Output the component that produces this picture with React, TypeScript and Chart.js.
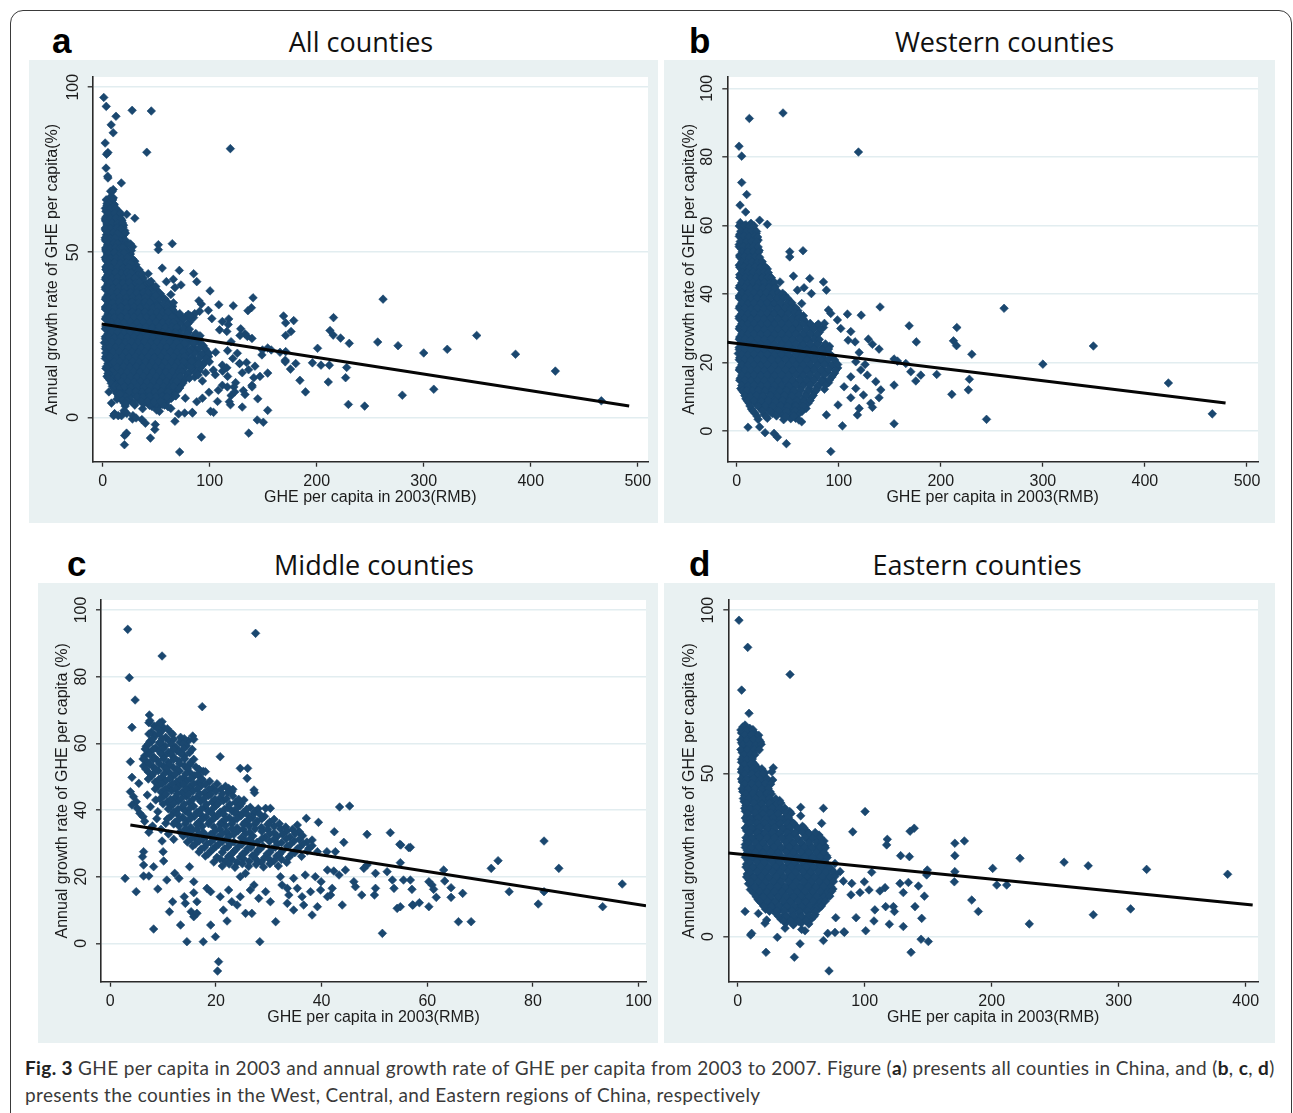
import React, { useEffect, useLayoutEffect, useRef, useState } from "react";
import { Chart, registerables } from "chart.js";

Chart.register(...registerables);

// ---------------- DATA ----------------
// Western counties: [GHE per capita 2003 (RMB), annual growth rate (%)]
const westernPoints: [number, number][] = [
  [45.4,92.8],[12.4,91.2],[2.3,83.1],[4.9,80.2],[119.3,81.4],[4.9,72.5],[9.8,69],[3.3,65.9],[8.8,63.9],[22.5,61.5],
  [30,60.3],[52,52.3],[52,50.8],[65,52.6],[55.6,45.2],[71.6,44.5],[42.5,43.5],[85,43.5],[87.9,41.1],[59.5,41.1],
  [66,41.8],[73.2,40.1],[39.9,40.1],[48,36.7],[63.7,37.2],[140.5,36.2],[262,35.8],[89.9,35.3],[92.2,34.3],[108.5,34.1],
  [122,33.8],[98.7,32.4],[65.4,33.6],[65.4,32.4],[169,30.7],[215.7,30.2],[176,26],[212.4,26.3],[215.4,24.9],[230.4,22.4],
  [129,26.8],[133,25.3],[139.5,23.9],[154.2,21],[157.5,20.4],[165.7,19.7],[170.6,17.3],[175.5,14.6],[180.4,16.3],[196,16.5],
  [228,15.1],[227,12],[210.8,10.7],[154.2,13.4],[154.2,2.1],[244.8,3.4],[103.6,1.5],[92.2,-6],[48.7,-3.7],[39.9,-1.8],
  [36.6,-0.7],[27.8,-0.5],[22.5,1.2],[11.1,1.1],[120,6.6],[118.3,4.7],[131.4,8.1],[133,6.9],[111.8,9.7],[139.5,9.7],
  [141.2,12],[99.3,7.6],[87.9,4.7],[63.7,2.7],[57.8,3.7],[1.6,22.6],[300,19.5],[349.5,24.8],[423,14],[466,5],
  [102,29.9],[111.8,29],[109.2,26.5],[116,26],[120,22.9],[116.7,20.2],[121.6,17.8],[125.8,19.4],[128,16.3],[136.3,14.4],
  [111.8,15.8],[105.2,12.9],[116.7,12.4],[124.2,10.5],
  [3.5,60.8],[9,60.2],[14,60.6],[5.5,59.2],[11,58.7],[16.5,59.1],[3,57.4],[8.5,57.8],[13.5,57.2],[19,57.6],
  [5,56.3],[11,55.8],[16,56.1],[21,55.7],[2.5,54.4],[8,54.8],[13,54.3],[18.5,54.6],[4.5,53.2],[10.5,52.8],
  [16,53.1],[22,52.7],[3,51.3],[8,51.7],[13.5,51.4],[19,51.8],[5,50.2],[11,49.8],[16.5,50.1],[23.5,49.7],
  [2.5,48.4],[8,48.7],[14,48.3],[20,48.6],[26,48.2],[5,47.1],[10.5,46.8],[17,47.2],[23,46.9],[30,47.3],
  [3,45.6],[8,45.3],[13.5,45.7],[19.5,45.4],[26,45.6],[32,45.2],[5.5,44.2],[11,43.8],[16.5,44.1],[22.5,43.9],
  [29,44.3],[35,43.7],[3,42.4],[8.5,42.7],[14,42.3],[20,42.6],[26,42.4],[32,42.8],[38,42.2],[5,41.2],
  [11,40.8],[17,41.1],[23,40.9],[29.5,41.3],[36,40.7],[2.5,39.4],[8,39.7],[14,39.3],[20.5,39.6],[26.5,39.4],
  [33,39.8],[40,39.3],[47,39.6],[5.5,38.2],[11,37.8],[17.5,38.1],[23.5,37.9],[30,38.3],[37,37.7],[44,38.2],
  [52,37.8],[3,36.4],[8.5,36.7],[14.5,36.3],[20.5,36.6],[27,36.4],[33.5,36.8],[40,36.3],[48,36.6],[56,36.2],
  [5,35.2],[11.5,34.8],[17,35.1],[24,34.9],[30.5,35.3],[37,34.7],[44.5,35.2],[51,34.8],[60,35.1],[2.5,33.4],
  [8,33.7],[14,33.3],[20.5,33.6],[27,33.4],[33.5,33.8],[41,33.3],[47.5,33.6],[55,33.2],[62,33.7],[5,32.2],
  [11,31.8],[17.5,32.1],[23.5,31.9],[30,32.3],[36.5,31.7],[44,32.2],[51,31.8],[58.5,32.1],[67,31.9],[3,30.4],
  [8.5,30.7],[14,30.3],[20.5,30.6],[27,30.4],[33,30.8],[40,30.3],[47,30.6],[54.5,30.2],[62,30.7],[70,30.4],
  [78,30.6],[85,30.2],[5.5,29.2],[11,28.8],[17,29.1],[23.5,28.9],[30,29.3],[37,28.7],[43.5,29.2],[50.5,28.8],
  [58,29.1],[66,28.9],[74,29.3],[81,28.8],[3,27.4],[8,27.7],[14.5,27.3],[20.5,27.6],[27,27.4],[33.5,27.8],
  [40,27.3],[47.5,27.6],[54,27.2],[61,27.7],[69,27.4],[77,27.6],[5,26.2],[11,25.8],[17,26.1],[24,25.9],
  [30.5,26.3],[36.5,25.7],[44,26.2],[51,25.8],[57.5,26.1],[65,25.9],[72,26.3],[80,25.8],[2.5,24.4],[8.5,24.7],
  [14,24.3],[20,24.6],[27,24.4],[33.5,24.8],[40.5,24.3],[47,24.6],[54.5,24.2],[62,24.7],[69.5,24.4],[76,24.6],
  [84,24.2],[91,24.7],[5.5,23.2],[11.5,22.8],[17.5,23.1],[23.5,22.9],[30,23.3],[37,22.7],[43.5,23.2],[50,22.8],
  [58,23.1],[65.5,22.9],[73,23.3],[80.5,22.8],[88,23.1],[3,21.4],[8,21.7],[14.5,21.3],[20.5,21.6],[27,21.4],
  [33,21.8],[40,21.3],[47,21.6],[54,21.2],[61.5,21.7],[69,21.4],[77,21.6],[84.5,21.2],[94,21.7],[5,20.2],
  [11,19.8],[17,20.1],[24,19.9],[30.5,20.3],[37,19.7],[43.5,20.2],[51,19.8],[58,20.1],[65,19.9],[72.5,20.3],
  [80,19.8],[88,20.1],[97,19.9],[3,18.4],[8.5,18.7],[14,18.3],[20.5,18.6],[27,18.4],[33.5,18.8],[40.5,18.3],
  [47.5,18.6],[54.5,18.2],[61.5,18.7],[69,18.4],[76.5,18.6],[84,18.2],[92,18.7],[99,18.4],[5.5,17.2],[11,16.8],
  [17.5,17.1],[23.5,16.9],[30,17.3],[37,16.7],[44,17.2],[50.5,16.8],[57.5,17.1],[65,16.9],[73,17.3],[80.5,16.8],
  [88.5,17.1],[96,16.9],[3.5,15.4],[8,15.7],[14.5,15.3],[20.5,15.6],[27,15.4],[33.5,15.8],[40,15.3],[47,15.6],
  [54,15.2],[62,15.7],[70,15.4],[77.5,15.6],[85,15.2],[93,15.7],[6,14.2],[11,13.8],[17,14.1],[23.5,13.9],
  [30.5,14.3],[37,13.7],[44,14.2],[51,13.8],[58,14.1],[66,13.9],[74,14.3],[82,13.8],[90,14.1],[4,12.4],
  [9,12.7],[14.5,12.3],[20.5,12.6],[27,12.4],[34,12.8],[41,12.3],[48,12.6],[55,12.2],[62.5,12.7],[71,12.4],
  [79,12.6],[86,12.2],[7,11.2],[12,10.8],[18,11.1],[24,10.9],[31,11.3],[38,10.7],[45,11.2],[52,10.8],
  [60,11.1],[68,10.9],[76,11.3],[9,9.4],[15,9.7],[21,9.3],[28,9.6],[35,9.4],[42,9.8],[49,9.3],
  [57,9.6],[65,9.2],[73,9.7],[12,8.2],[19,7.8],[26,8.1],[33,7.9],[40,8.3],[47.5,7.7],[55,8.2],
  [63,7.8],[70,8.1],[14.5,6.4],[23,6.7],[31,6.3],[38,6.6],[46,6.4],[54,6.8],[61,6.3],[68,6.6],
  [18,5.2],[27,4.8],[35,5.1],[44,4.9],[52,5.3],[60,4.8],[21,3.4],[30,3.7],[46,3.3],[53,3.6],[61,3.2]
];

// Western counties: the solid cloud between the rows above
const westernDense: [number, number][] = [
  [2.5,59.8],[7.5,59.9],[12.5,59.7],[17,59.9],[4,58.3],[9.5,58.2],[14.5,58.4],[19.5,58.2],
  [2.5,56.8],[7,56.9],[12,56.7],[17.5,56.9],[20.5,56.6],[3.5,55.3],[9.5,55.2],[14.5,55.4],[19.5,55.2],
  [2.5,53.8],[6.5,53.9],[11.5,53.7],[16.5,53.9],[21,53.7],[5.5,52.3],[11,52.2],[16.5,52.4],[21.5,52.2],
  [3,50.8],[7.5,50.9],[12.5,50.7],[18,50.9],[22.5,50.7],[5,49.3],[10,49.2],[15,49.4],[20,49.2],[25,49.4],
  [3,47.8],[7,47.9],[12.5,47.7],[18,47.9],[23.5,47.7],[28,47.9],[5.5,46.3],[10.5,46.2],[16,46.4],[21.5,46.2],[27,46.4],[31,46.2],
  [3,44.8],[8.5,44.9],[14,44.7],[19.5,44.9],[25,44.7],[30.5,44.9],[34,44.7],
  [5,43.3],[10.5,43.2],[16,43.4],[21.5,43.2],[27,43.4],[33,43.2],[37,43.4],
  [2.5,41.8],[8,41.9],[13.5,41.7],[19.5,41.9],[25.5,41.7],[31.5,41.9],[37,41.7],
  [5,40.3],[11,40.2],[17,40.4],[23,40.2],[29,40.4],[35,40.2],[41,40.4],[45,40.2],
  [2.5,38.8],[8,38.9],[14,38.7],[20,38.9],[26.5,38.7],[33,38.9],[39.5,38.7],[46,38.9],[50,38.7],
  [5,37.3],[11,37.2],[17,37.4],[23.5,37.2],[30,37.4],[36.5,37.2],[43,37.4],[50,37.2],[54,37.4],
  [2.5,35.8],[8,35.9],[14,35.7],[20,35.9],[26.5,35.7],[33,35.9],[40,35.7],[47,35.9],[53,35.7],[58,35.9],
  [5,34.3],[11,34.2],[17,34.4],[23.5,34.2],[30,34.4],[36.5,34.2],[43.5,34.4],[50.5,34.2],[57,34.4],[61,34.2],
  [2.5,32.8],[8,32.9],[14,32.7],[20.5,32.9],[27,32.7],[33.5,32.9],[40.5,32.7],[47.5,32.9],[54.5,32.7],[60.5,32.9],[65,32.7],
  [5,31.3],[11,31.2],[17,31.4],[23.5,31.2],[30,31.4],[37,31.2],[44,31.4],[51,31.2],[58,31.4],[64.5,31.2],[72,31.4],[80,31.2],[86,31.4],
  [2.5,29.8],[8,29.9],[14,29.7],[20.5,29.9],[27,29.7],[33.5,29.9],[40.5,29.7],[47.5,29.9],[54.5,29.7],[61.5,29.9],[68,29.7],[75,29.9],[82,29.7],
  [5,28.3],[11,28.2],[17,28.4],[23.5,28.2],[30,28.4],[37,28.2],[44,28.4],[51,28.2],[58,28.4],[65,28.2],[72,28.4],[79,28.2],
  [2.5,26.8],[8,26.9],[14,26.7],[20.5,26.9],[27,26.7],[34,26.9],[41,26.7],[48,26.9],[55,26.7],[62,26.9],[69,26.7],[76,26.9],[81,26.7],
  [5,25.3],[11,25.2],[17,25.4],[23.5,25.2],[30,25.4],[37,25.2],[44,25.4],[51,25.2],[58,25.4],[65,25.2],[72,25.4],[79,25.2],[87,25.4],
  [2.5,23.8],[8,23.9],[14,23.7],[20.5,23.9],[27,23.7],[34,23.9],[41,23.7],[48,23.9],[55,23.7],[62,23.9],[69,23.7],[76,23.9],[83,23.7],[90,23.9],
  [5,22.3],[11,22.2],[17,22.4],[23.5,22.2],[30,22.4],[37,22.2],[44,22.4],[51,22.2],[58,22.4],[65,22.2],[72,22.4],[79,22.2],[86,22.4],[92,22.2],
  [2.5,20.8],[8,20.9],[14,20.7],[20.5,20.9],[27,20.7],[34,20.9],[41,20.7],[48,20.9],[55,20.7],[62,20.9],[69,20.7],[76,20.9],[83,20.7],[90,20.9],[96,20.7],
  [5,19.3],[11,19.2],[17,19.4],[23.5,19.2],[30,19.4],[37,19.2],[44,19.4],[51,19.2],[58,19.4],[65,19.2],[72,19.4],[79,19.2],[86,19.4],[93,19.2],[99,19.4],
  [2.5,17.8],[8,17.9],[14,17.7],[20.5,17.9],[27,17.7],[34,17.9],[41,17.7],[48,17.9],[55,17.7],[62,17.9],[69,17.7],[76,17.9],[83,17.7],[90,17.9],[97,17.7],
  [5,16.3],[11,16.2],[17,16.4],[23.5,16.2],[30,16.4],[37,16.2],[44,16.4],[51,16.2],[58,16.4],[65,16.2],[72,16.4],[79,16.2],[86,16.4],[94,16.2],
  [3,14.8],[8,14.9],[14,14.7],[20.5,14.9],[27,14.7],[34,14.9],[41,14.7],[48,14.9],[55,14.7],[62,14.9],[69,14.7],[76,14.9],[83,14.7],[91,14.9],
  [5,13.3],[11,13.2],[17,13.4],[23.5,13.2],[30,13.4],[37,13.2],[44,13.4],[51,13.2],[58,13.4],[65,13.2],[72,13.4],[79,13.2],[87,13.4],
  [5.5,11.8],[10,11.9],[15.5,11.7],[21.5,11.9],[28,11.7],[35,11.9],[42,11.7],[49,11.9],[56,11.7],[63,11.9],[70,11.7],[78,11.9],
  [8,10.3],[13.5,10.2],[19.5,10.4],[26,10.2],[33,10.4],[40,10.2],[47,10.4],[54,10.2],[61,10.4],[68,10.2],[75,10.4],
  [10.5,8.8],[17,8.9],[24,8.7],[31,8.9],[38,8.7],[45,8.9],[52,8.7],[59,8.9],[66,8.7],[72,8.9],
  [13,7.3],[21,7.2],[28,7.4],[35,7.2],[43,7.4],[50,7.2],[58,7.4],[65,7.2],
  [16,5.8],[25,5.9],[33,5.7],[41,5.9],[49,5.7],[57,5.9],[64,5.7],
  [20,4.3],[29,4.2],[39,4.4],[48,4.2],[56,4.4]
];

// Middle counties
const middlePoints: [number, number][] = [
  [3.3,94.2],[27.5,93],[9.8,86.2],[3.6,79.7],[4.7,73],[17.4,71],[7.4,68.5],[7.3,66.2],[9.8,66.5],[9.9,64],
  [4.1,64.8],[7.8,60.5],[9.5,60.5],[13.3,61.8],[15.6,62.2],[14.2,59],[12.6,57.8],[3.8,54.5],[20.8,56],[4.1,49.8],
  [5.4,48],[24.6,52.5],[26,52.5],[25.9,49.5],[16.7,50.5],[18,51.5],[27.2,46],[27.3,45.2],[3.8,45.5],[4.4,44],
  [4.9,42.5],[4.1,41.5],[5.1,40.5],[5.6,39],[6.2,38],[2.8,19.5],[4.9,15.5],[6.3,27.5],[6.1,26],[6.3,23.5],
  [6.3,20.2],[7.3,20.2],[8.2,23],[9,16.3],[8.2,4.3],[7.6,34.5],[9.8,30.7],[10,27.5],[10.1,24.7],[10.7,19],
  [12.2,21],[13,19.5],[11.2,9.5],[11.8,12.5],[13.3,5.5],[14,14],[14.2,12],[15.3,9.5],[15.8,8],[16.4,9],
  [14.5,0.5],[17.6,0.5],[15.8,15.2],[16.4,12.5],[15,23],[15.8,18.5],[18.3,16.5],[19,15.5],[19,5.5],[19.9,2],
  [20.5,-5.5],[20.3,-8.3],[20.8,14],[21.4,10],[22.1,6.7],[22.4,16],[23,12.5],[24,11.5],[24.6,14],[25.6,9],
  [26.8,9],[28.3,0.5],[27.2,17.5],[28.1,13.5],[25.6,21],[24.6,20],[26.5,16],[29.4,15.5],[30.3,12.5],[31.3,6.5],
  [32.2,20],[32.5,17.5],[33.5,16.5],[33.8,14.5],[33.5,12],[34.7,10],[36.6,11.5],[37.9,15.5],[39.2,11],[38.2,8.5],
  [36.3,14],[34.7,19.5],[35.4,16.5],[36.9,20.5],[38.8,20],[39.9,18.5],[39.8,16],[41.1,14],[41.7,14.5],[42,16.5],
  [43.9,11.5],[41.1,22],[42.3,21.7],[43.3,20.5],[44.5,22],[46.1,18.5],[46.4,17],[47.6,14.5],[48,22.5],[48.6,23.5],
  [50.2,21],[50.2,16.5],[50,14.5],[51.5,3],[52.4,21.5],[53.7,16.5],[54.3,10.5],[53.4,19],[57.2,11.5],[48.6,32.7],
  [53,33.2],[54.8,29.7],[56.5,28.7],[43.4,40.9],[45.3,41.2],[42.4,33.5],[44.2,30.3],[39.4,36.3],[37.1,37.5],[35.4,35.5],
  [35.7,33.5],[41,27.5],[42.6,27.5],[39.2,27.5],[38.2,31],[37.6,28.5],[29.4,40.5],[30.3,40.5],[27.2,39],[24,39],
  [24.6,42.5],[25.3,43],[22.4,46.5],[23,45.5],
  [55,29.5],[56.8,28.8],[54.9,24.2],[55.5,19],[56.8,19],[57.1,16.2],[54.9,11],[57.3,11.5],[58.5,12.2],[60.3,11],
  [60.3,18.5],[60.9,17.5],[61.2,16.2],[61.7,13.8],[63.1,22],[63.3,18.7],[64.5,16.7],[64.5,13.8],[66.7,15],[65.9,6.5],
  [68.3,6.5],[72.1,22.5],[73.4,24.8],[75.5,15.5],[82.1,30.7],[84.9,22.5],[82.1,15.5],[81,11.8],[93.2,11],[96.9,17.8],
  [7.5,66.8],[9.4,66.2],[8.3,65.2],[10.1,64.7],[7.8,63.4],[9.6,63.8],[11.5,63.2],[8.5,62.3],[10.5,61.8],[7.5,60.6],
  [9.3,60.2],[11.2,60.7],[13.2,60.3],[14.8,60.8],[6.8,59.1],[8.6,58.7],[10.4,59.2],[12.4,58.8],[14.4,59.3],[7.2,57.4],
  [9.2,57.8],[11,57.3],[13,57.7],[15,57.2],[6.5,56.2],[8.3,55.8],[10.2,56.1],[12.1,55.7],[14,56.3],[7,54.4],
  [9,54.8],[11,54.3],[13,54.7],[15.2,54.2],[6.3,53.2],[8.2,52.8],[10.1,53.1],[12,52.7],[14,53.3],[16.2,52.9],
  [7.2,51.4],[9.1,51.8],[11.1,51.3],[13.1,51.7],[15.1,51.2],[17.6,51.6],[7.8,50.2],[9.8,49.8],[11.8,50.1],[13.8,49.7],
  [15.9,50.3],[8.5,48.4],[10.5,48.8],[12.5,48.3],[14.5,48.7],[16.6,48.2],[18.8,48.6],[9,47.2],[11,46.8],[13,47.1],
  [15,46.9],[17.2,47.3],[19.4,46.7],[21.8,47.1],[9.6,45.4],[11.6,45.8],[13.6,45.3],[15.7,45.7],[17.8,45.2],[20,45.6],
  [22.3,45.3],[10.2,44.2],[12.3,43.8],[14.4,44.1],[16.5,43.9],[18.6,44.3],[20.8,43.7],[23.2,44.2],[10.8,42.4],[12.9,42.7],
  [15,42.3],[17.1,42.6],[19.3,42.4],[21.4,42.8],[23.7,42.3],[11.5,41.2],[13.6,40.8],[15.8,41.1],[17.9,40.9],[20,41.3],
  [22.2,40.7],[24.5,41.2],[26.5,40.8],[12,39.4],[14.2,39.7],[16.4,39.3],[18.6,39.6],[20.8,39.4],[23,39.8],[25.2,39.3],
  [27.4,39.6],[11.5,38.2],[13.7,37.8],[15.9,38.1],[18.1,37.9],[20.3,38.3],[22.5,37.7],[24.7,38.2],[26.9,37.8],[29.2,38.1],
  [12.3,36.4],[14.5,36.7],[16.7,36.3],[18.9,36.6],[21.1,36.4],[23.3,36.8],[25.5,36.3],[27.8,36.6],[30.2,36.4],[13,35.2],
  [15.2,34.8],[17.4,35.1],[19.6,34.9],[21.8,35.3],[24,34.7],[26.3,35.2],[28.6,34.8],[31,35.1],[33.2,34.9],[13.2,33.4],
  [15.4,33.7],[17.6,33.3],[19.8,33.6],[22,33.4],[24.2,33.8],[26.4,33.3],[28.7,33.6],[31,33.2],[33.4,33.7],[35.8,33.4],
  [13.8,32.2],[16,31.8],[18.2,32.1],[20.4,31.9],[22.6,32.3],[24.8,31.7],[27,32.2],[29.3,31.8],[31.6,32.1],[34,31.9],
  [36.4,32.3],[14.6,30.4],[16.8,30.7],[19,30.3],[21.2,30.6],[23.4,30.4],[25.6,30.8],[27.8,30.3],[30.1,30.6],[32.4,30.2],
  [34.8,30.7],[37.2,30.4],[15.6,29.2],[17.8,28.8],[20,29.1],[22.2,28.9],[24.4,29.3],[26.6,28.7],[28.9,29.2],[31.2,28.8],
  [33.5,29.1],[35.9,28.9],[38.2,29.3],[16.8,27.4],[19,27.7],[21.2,27.3],[23.4,27.6],[25.6,27.4],[27.9,27.8],[30.2,27.3],
  [32.5,27.6],[34.9,27.2],[37.3,27.7],[18,26.2],[20.2,25.8],[22.4,26.1],[24.6,25.9],[26.9,26.3],[29.2,25.7],[31.5,26.2],
  [33.8,25.8],[36.2,26.1],[19.6,24.4],[21.8,24.7],[24,24.3],[26.3,24.6],[28.6,24.4],[31,24.8],[33.4,24.3],[21.2,23.2],
  [23.6,22.8],[26.2,23.1],[29,22.9],[31.8,23.2],
  [6.5,36.6],[8,35.2],[9.6,34.2],[7.3,33.3],[11,32.8],[12,31.2],[8.8,37.4],[10.5,36],[7,44.5],[8.6,43],[7.6,41],[9,39.5]
];

// Middle counties: the dense band between the rows above
const middleDense: [number, number][] = [
  [9.2,65.8],[9,64.3],[10.8,64.4],[7.3,62.8],[9.3,62.9],[11.8,62.7],
  [8,61.3],[9.8,61.4],[12,61.2],[14,61.4],[15.8,61.2],[7.2,59.8],[9.5,59.9],[11.6,59.7],[13.8,59.9],
  [6.6,58.3],[8.1,58.2],[10,58.4],[11.9,58.2],[13.9,58.4],[15.5,58.2],[7.4,56.8],[9.6,56.9],[11.5,56.7],[13.4,56.9],
  [6.2,55.3],[8.1,55.2],[10.1,55.4],[12,55.2],[14.1,55.4],[15.8,55.2],[7.4,53.8],[9.3,53.9],[11.2,53.7],[13.1,53.9],[15.1,53.7],
  [6.7,52.3],[8.6,52.2],[10.6,52.4],[12.6,52.2],[14.6,52.4],[16.8,52.2],[8.1,50.8],[10.2,50.9],[12.3,50.7],[14.3,50.9],[16.5,50.7],
  [7.2,49.3],[9.2,49.2],[11.2,49.4],[13.2,49.2],[15.2,49.4],[17.4,49.2],[9.8,47.8],[11.8,47.9],[13.8,47.7],[15.8,47.9],[18,47.7],[20.2,47.9],
  [8.5,46.3],[10.4,46.2],[12.4,46.4],[14.4,46.2],[16.5,46.4],[18.7,46.2],[21,46.4],[23.2,46.2],
  [10.6,44.8],[12.7,44.9],[14.8,44.7],[16.9,44.9],[19,44.7],[21.2,44.9],
  [9.4,43.3],[11.4,43.2],[13.4,43.4],[15.6,43.2],[17.7,43.4],[19.8,43.2],[22,43.4],[24.3,43.2],
  [10,41.8],[12,41.9],[14,41.7],[18.2,41.7],[20.4,41.9],[22.6,41.7],[24.8,41.9],
  [11,40.3],[12.8,40.2],[15,40.4],[17.2,40.2],[19.4,40.4],[21.6,40.2],[23.8,40.4],[25.8,40.2],[28,40.4],
  [12.7,38.8],[14.9,38.9],[17.1,38.7],[19.3,38.9],[21.5,38.7],[23.7,38.9],[25.9,38.7],[28.2,38.9],
  [10.8,37.3],[13,37.2],[15.2,37.4],[17.4,37.2],[19.6,37.4],[21.8,37.2],[24,37.4],[26.3,37.2],[28.7,37.4],[31,37.2],
  [12,35.8],[14.2,35.9],[16.4,35.7],[18.6,35.9],[20.8,35.7],[23,35.9],[25.2,35.7],[27.4,35.9],[29.8,35.7],[32,35.9],
  [14.2,34.3],[16.4,34.2],[20.8,34.2],[23,34.4],[25.2,34.2],[27.4,34.4],[29.8,34.2],[32.2,34.4],[34.5,34.2],
  [14.6,32.8],[16.8,32.9],[19,32.7],[21.2,32.9],[23.4,32.7],[25.6,32.9],[30.2,32.9],[32.6,32.7],[35,32.9],
  [15.3,31.3],[17.5,31.2],[19.7,31.4],[21.9,31.2],[26.4,31.2],[28.7,31.4],[31,31.2],[33.3,31.4],[35.8,31.2],
  [16.1,29.8],[18.3,29.9],[20.5,29.7],[22.7,29.9],[24.9,29.7],[27.1,29.9],[31.7,29.9],[34.1,29.7],[36.5,29.9],
  [17.2,28.3],[19.4,28.2],[21.6,28.4],[23.8,28.2],[26,28.4],[28.3,28.2],[30.6,28.4],[35.4,28.4],
  [18.5,26.8],[22.9,26.7],[25.1,26.9],[27.4,26.7],[29.7,26.9],[32,26.7],[34.4,26.9],
  [20.8,25.3],[23,25.2],[25.2,25.4],[27.6,25.2],[30,25.4],[32.4,25.2],
  [22.5,23.8],[25,23.9],[27.6,23.7],[30.2,23.9]
];

// Eastern counties
const easternPoints: [number, number][] = [
  [1,96.9],[7.9,88.6],[41.2,80.3],[3.1,75.5],[8.9,68.4],[5.8,64.8],[28,51.7],[26.8,50.5],[21.5,50.2],[27.6,48],
  [49.6,39.6],[49.6,37],[67.5,39.3],[66.1,34.7],[49.6,33],[100.3,38.3],[90.6,32.1],[117.8,29.8],[117.3,28.1],[135.7,32.3],
  [139,33.2],[128.3,24.8],[135.2,24.5],[171,28.6],[178.5,29.3],[171,24.8],[171,19.9],[170.6,16.8],[149.3,20.4],[148.8,18.9],
  [200.8,20.9],[204,15.8],[211.8,15.8],[222.3,24],[184.3,11.2],[189.5,7.7],[105.5,19.7],[99.7,16.8],[103.4,14.3],[89.8,16.3],
  [96.3,13.5],[89.2,12.8],[112,14],[116,15],[127.8,16.3],[134.4,16.6],[130.4,13.5],[142.3,15.5],[147,12.4],[139.6,9.2],
  [116.5,9.2],[122.6,9.2],[123.4,7.7],[108,8.2],[107.3,4.8],[119.4,3.8],[130.4,3.1],[144.9,5.6],[144.4,-0.8],[150.1,-1.5],
  [136.5,-4.8],[100.8,1.8],[84,1.3],[76.6,1.3],[70.9,1],[67.5,-1.2],[71.9,-10.5],[44.6,-6.3],[22.3,-4.8],[49.1,-2.2],
  [31.2,-0.2],[37.3,2.6],[43.8,3.6],[11,1],[10.2,0.5],[5.8,7.7],[16.3,7.1],[22.8,5.1],[21.5,4.1],[77.2,5.8],
  [83.7,1.5],[53,1.8],[50.4,2.2],[93.2,5.8],[229.6,3.9],[257,22.8],[276,21.7],[280,6.7],[309.4,8.5],[322,20.6],
  [385.8,19.1],[76.6,22.4],[80.6,19.9],[83.2,17],
  [4,64.2],[9.5,63.8],[3,62.4],[8,62.7],[13.5,62.3],[4.5,61.2],[10,60.8],[15.5,61.1],[3,59.4],[8,59.7],
  [13,59.3],[18,59.6],[5,58.2],[10.5,57.8],[16,58.1],[3.5,56.4],[8,56.7],[12.5,56.3],[4.5,55.2],[9.5,54.8],
  [3,53.4],[7.5,53.7],[12,53.3],[4.5,52.2],[9.5,51.8],[14.5,52.1],[3,50.4],[8,50.7],[13,50.3],[18.5,50.6],
  [4.5,49.2],[10,48.8],[15.5,49.1],[21,48.9],[3.5,47.4],[8.5,47.7],[14,47.3],[19.5,47.6],[25,47.4],[5,46.2],
  [10.5,45.8],[16,46.1],[21.5,45.9],[4,44.4],[9,44.7],[14.5,44.3],[20,44.6],[25.5,44.4],[5.5,43.2],[11,42.8],
  [16.5,43.1],[22,42.9],[5,41.4],[10,41.7],[15.5,41.3],[21,41.6],[27,41.4],[33,41.7],[6.5,40.2],[12,39.8],
  [18,40.1],[24,39.9],[30,40.3],[6,38.4],[11,38.7],[17,38.3],[23,38.6],[29,38.4],[35,38.8],[41,38.3],
  [7.5,37.2],[13,36.8],[19,37.1],[25,36.9],[31,37.3],[37.5,36.7],[7,35.4],[12.5,35.7],[18,35.3],[24,35.6],
  [30,35.4],[36,35.8],[42,35.3],[8.5,34.2],[14,33.8],[20,34.1],[26,33.9],[32,34.3],[38,33.7],[45,34.2],
  [51,33.8],[7,32.4],[12.5,32.7],[18,32.3],[23.5,32.6],[29.5,32.4],[36,32.8],[42,32.3],[48,32.6],[54,32.4],
  [8.5,31.2],[14.5,30.8],[20,31.1],[26,30.9],[32,31.3],[38,30.7],[44.5,31.2],[58,30.8],[64,31.1],[7,29.4],
  [12,29.7],[18,29.3],[24,29.6],[30,29.4],[36,29.8],[42,29.3],[48,29.6],[56,29.4],[62,29.8],[68,29.3],
  [6,28.2],[9.5,27.8],[15,28.1],[21,27.9],[27,28.3],[33,27.7],[39,28.2],[45,27.8],[51,28.1],[57,27.9],
  [63,28.3],[68.5,27.8],[7.5,26.4],[13,26.7],[19,26.3],[25,26.6],[31,26.4],[37,26.8],[43,26.3],[49,26.6],
  [55,26.4],[61,26.8],[67,26.3],[6.5,25.2],[10.5,24.8],[16,25.1],[22,24.9],[28,25.3],[34,24.7],[40,25.2],
  [46,24.8],[52,25.1],[58,24.9],[64,25.3],[70,24.8],[8,23.4],[13.5,23.7],[19.5,23.3],[25.5,23.6],[31.5,23.4],
  [37.5,23.8],[43.5,23.3],[49.5,23.6],[55.5,23.4],[61.5,23.8],[67.5,23.3],[7,22.2],[11,21.8],[16.5,22.1],[22.5,21.9],
  [28.5,22.3],[34.5,21.7],[40.5,22.2],[46.5,21.8],[52.5,22.1],[58.5,21.9],[64.5,22.3],[71,21.8],[8.5,20.4],[14,20.7],
  [20,20.3],[26,20.6],[32,20.4],[38,20.8],[44,20.3],[50,20.6],[56,20.4],[62,20.8],[68,20.3],[74,20.6],
  [7.5,19.2],[11.5,18.8],[17,19.1],[23,18.9],[29,19.3],[35,18.7],[41,19.2],[47,18.8],[53,19.1],[59,18.9],
  [65,19.3],[71,18.8],[77,19.1],[9,17.4],[14.5,17.7],[20.5,17.3],[26.5,17.6],[32.5,17.4],[38.5,17.8],[44.5,17.3],
  [50.5,17.6],[56.5,17.4],[62.5,17.8],[68.5,17.3],[74.5,17.6],[8.5,16.2],[12,15.8],[17.5,16.1],[23.5,15.9],[29.5,16.3],
  [35.5,15.7],[41.5,16.2],[47.5,15.8],[53.5,16.1],[59.5,15.9],[65.5,16.3],[72,15.8],[10,14.4],[15,14.7],[21,14.3],
  [27,14.6],[33,14.4],[39,14.8],[45,14.3],[51,14.6],[57,14.4],[63,14.8],[69,14.3],[75,14.6],[13,13.2],
  [18,12.8],[24,13.1],[30,12.9],[36,13.3],[42,12.7],[48,13.2],[54,12.8],[60,13.1],[66,12.9],[72,13.3],
  [16,11.4],[21,11.7],[27,11.3],[33,11.6],[39,11.4],[45,11.8],[51,11.3],[57,11.6],[63,11.4],[69,11.7],
  [19,10.2],[24.5,9.8],[30.5,10.1],[36.5,9.9],[42.5,10.3],[48.5,9.7],[54.5,10.2],[60.5,9.8],[66.5,10.1],[22,8.4],
  [28,8.7],[34,8.3],[40,8.6],[46,8.4],[52,8.8],[58,8.3],[64,8.6],[30,7.2],[37,6.8],[43,7.1],
  [49,6.9],[55,7.3],[61,6.8],[34,5.4],[40,5.7],[46,5.3],[52,5.6],[58,5.4],[38,4.2],[44,3.8],[50,4.1],[56,3.9]
];

// Eastern counties: the solid cloud between the rows above
const easternDense: [number, number][] = [
  [2.5,63.3],[7,63.2],[12,63.4],[5.5,61.8],[11,61.9],[16.5,61.7],[2.5,60.3],[7,60.2],[12.5,60.4],[17,60.2],
  [4,58.8],[9,58.9],[14,58.7],[18.5,58.9],[2.5,57.3],[7.5,57.2],[13,57.4],[17,57.2],[5,55.8],[10,55.9],[13.5,55.7],
  [3,54.3],[7,54.2],[11.5,54.4],[5.5,52.8],[10.5,52.9],[13.5,52.7],[3,51.3],[7,51.2],[12,51.4],[16,51.2],[19,51.4],
  [5.5,49.8],[11,49.9],[16.5,49.7],[20,49.9],[3,48.3],[7,48.2],[12.5,48.4],[18,48.2],[23,48.4],
  [5.5,46.8],[11,46.9],[16.5,46.7],[22,46.9],[26,46.7],[3.5,45.3],[8,45.2],[13.5,45.4],[19,45.2],[24,45.4],
  [6.5,43.8],[12,43.9],[17.5,43.7],[23,43.9],[26.5,43.7],[4.5,42.3],[8.5,42.2],[14,42.4],[19.5,42.2],[25,42.4],[30,42.2],
  [7,40.8],[13,40.9],[19,40.7],[25,40.9],[31,40.7],[34,40.9],[5.5,39.3],[9.5,39.2],[15,39.4],[21,39.2],[27,39.4],[33,39.2],[37,39.4],
  [8,37.8],[14,37.9],[20,37.7],[26,37.9],[32,37.7],[38,37.9],[42,37.7],[6,36.3],[10,36.2],[16,36.4],[22,36.2],[28,36.4],[34,36.2],[40,36.4],
  [9.5,34.8],[15.5,34.9],[21.5,34.7],[27.5,34.9],[33.5,34.7],[39.5,34.9],[44,34.7],
  [6,33.3],[11,33.2],[17,33.4],[23,33.2],[29,33.4],[35,33.2],[41,33.4],[47,33.2],[52,33.4],
  [9.5,31.8],[15.5,31.9],[21.5,31.7],[27.5,31.9],[33.5,31.7],[39.5,31.9],[45.5,31.7],[51,31.9],[56,31.7],[61,31.9],
  [6.5,30.3],[11,30.2],[17,30.4],[23,30.2],[29,30.4],[35,30.2],[41,30.4],[47,30.2],[53,30.4],[59,30.2],[65,30.4],
  [8.5,28.8],[14,28.9],[20,28.7],[26,28.9],[32,28.7],[38,28.9],[44,28.7],[50,28.9],[56,28.7],[62,28.9],[66,28.7],
  [6,27.3],[10.5,27.2],[16.5,27.4],[22.5,27.2],[28.5,27.4],[34.5,27.2],[40.5,27.4],[46.5,27.2],[52.5,27.4],[58.5,27.2],[64.5,27.4],[69,27.2],
  [8.5,25.8],[14,25.9],[20,25.7],[26,25.9],[32,25.7],[38,25.9],[44,25.7],[50,25.9],[56,25.7],[62,25.9],[68,25.7],
  [6,24.3],[11,24.2],[17,24.4],[23,24.2],[29,24.4],[35,24.2],[41,24.4],[47,24.2],[53,24.4],[59,24.2],[65,24.4],[70.5,24.2],
  [9,22.8],[15,22.9],[21,22.7],[27,22.9],[33,22.7],[39,22.9],[45,22.7],[51,22.9],[57,22.7],[63,22.9],[69,22.7],
  [6.5,21.3],[12,21.2],[18,21.4],[24,21.2],[30,21.4],[36,21.2],[42,21.4],[48,21.2],[54,21.4],[60,21.2],[66,21.4],[72,21.2],
  [9.5,19.8],[15.5,19.9],[21.5,19.7],[27.5,19.9],[33.5,19.7],[39.5,19.9],[45.5,19.7],[51.5,19.9],[57.5,19.7],[63.5,19.9],[69.5,19.7],[75,19.9],
  [7,18.3],[12.5,18.2],[18.5,18.4],[24.5,18.2],[30.5,18.4],[36.5,18.2],[42.5,18.4],[48.5,18.2],[54.5,18.4],[60.5,18.2],[66.5,18.4],[72.5,18.2],[76.5,18.4],
  [10.5,16.8],[16,16.9],[22,16.7],[28,16.9],[34,16.7],[40,16.9],[46,16.7],[52,16.9],[58,16.7],[64,16.9],[70,16.7],[75.5,16.9],
  [13.5,15.2],[19.5,15.4],[25.5,15.2],[31.5,15.4],[37.5,15.2],[43.5,15.4],[49.5,15.2],[55.5,15.4],[61.5,15.2],[67.5,15.4],[73.5,15.2],
  [17,13.9],[23,13.7],[29,13.9],[35,13.7],[41,13.9],[47,13.7],[53,13.9],[59,13.7],[65,13.9],[71,13.7],[74,13.9],
  [14.5,12.3],[20,12.2],[26,12.4],[32,12.2],[38,12.4],[44,12.2],[50,12.4],[56,12.2],[62,12.4],[68,12.2],[72.5,12.4],
  [17.5,10.8],[23.5,10.9],[29.5,10.7],[35.5,10.9],[41.5,10.7],[47.5,10.9],[53.5,10.7],[59.5,10.9],[65.5,10.7],[69,10.9],
  [20.5,9.3],[26.5,9.2],[32.5,9.4],[38.5,9.2],[44.5,9.4],[50.5,9.2],[56.5,9.4],[62.5,9.2],[66,9.4],
  [25,7.8],[31,7.9],[37,7.7],[43,7.9],[49,7.7],[55,7.9],[61,7.7],[32,6.3],[38,6.2],[44,6.4],[50,6.2],[56,6.4],[60,6.2],
  [36,4.8],[42,4.9],[48,4.7],[54,4.9]
];

const westernSeries: [number, number][] = [...westernPoints, ...westernDense];
const middleSeries: [number, number][] = [...middlePoints, ...middleDense];
const easternSeries: [number, number][] = [...easternPoints, ...easternDense];
// All counties = West + Middle + East
const allSeries: [number, number][] = [...westernSeries, ...middleSeries, ...easternSeries];

// Fitted (linear) lines, end points
const allFit: [number, number][] = [[-1, 28.3], [492, 3.4]];
const westernFit: [number, number][] = [[-9.2, 25.9], [479, 8.2]];
const middleFit: [number, number][] = [[3.8, 35.5], [101.4, 11.3]];
const easternFit: [number, number][] = [[-7.4, 25.6], [405.5, 9.7]];

// Tick labels
const xTicksWide = [0, 100, 200, 300, 400, 500];
const xTicksMiddle = [0, 20, 40, 60, 80, 100];
const xTicksEast = [0, 100, 200, 300, 400];
const yTicks50 = [0, 50, 100];
const yTicks20 = [0, 20, 40, 60, 80, 100];

const X_TITLE = "GHE per capita in 2003(RMB)";
const Y_TITLE_AB = "Annual growth rate of GHE per capita(%)";
const Y_TITLE_CD = "Annual growth rate of GHE per capita (%)";

// ---------------- STYLE ----------------
const NAVY = "#1a476f";
const PANEL_BG = "#e9f1f2";
const GRID = "#e2edf0";
const AXIS = "#2a2a2a";
const TEXT = "#1c1c1c";
const ARIAL = "'Liberation Sans', Arial, sans-serif";
const TITLE_FONT = "'Open Sans', 'Noto Sans', sans-serif";
const CAPTION_FONT = "Lato, 'Open Sans', sans-serif";

type PanelSpec = {
  key: string;
  letter: string;
  title: string;
  yTitle: string;
  points: [number, number][];
  fit: [number, number][];
  xMin: number; xMax: number; yMin: number; yMax: number;
  xTicks: number[]; yTicks: number[];
  left: number; top: number; width: number; height: number;
  chartLeft: number; chartTop: number; chartRight: number; chartBottom: number;
  yTitlePad: number;
  letterX: number; titleCenterX: number; baseline: number;
};

const panels: PanelSpec[] = [
  {
    key: "a", letter: "a", title: "All counties", yTitle: Y_TITLE_AB, points: allSeries, fit: allFit,
    xMin: -9.35, xMax: 509.6, yMin: -13.45, yMax: 103.1, xTicks: xTicksWide, yTicks: yTicks50,
    left: 29, top: 60, width: 629, height: 463,
    chartLeft: 63.7, chartTop: 17, chartRight: 619, chartBottom: 401.7,
    yTitlePad: 14.4, letterX: 52, titleCenterX: 361, baseline: 52,
  },
  {
    key: "b", letter: "b", title: "Western counties", yTitle: Y_TITLE_AB, points: westernSeries, fit: westernFit,
    xMin: -9.2, xMax: 510.8, yMin: -8.96, yMax: 103.3, xTicks: xTicksWide, yTicks: yTicks20,
    left: 664, top: 60, width: 611, height: 463,
    chartLeft: 63.3, chartTop: 17, chartRight: 594, chartBottom: 401.7,
    yTitlePad: 16.3, letterX: 689, titleCenterX: 1004.5, baseline: 52,
  },
  {
    key: "c", letter: "c", title: "Middle counties", yTitle: Y_TITLE_CD, points: middleSeries, fit: middleFit,
    xMin: -1.76, xMax: 101.4, yMin: -11.5, yMax: 103, xTicks: xTicksMiddle, yTicks: yTicks20,
    left: 38, top: 583, width: 620, height: 460,
    chartLeft: 63, chartTop: 17, chartRight: 608, chartBottom: 398.7,
    yTitlePad: 15, letterX: 67, titleCenterX: 374, baseline: 575,
  },
  {
    key: "d", letter: "d", title: "Eastern counties", yTitle: Y_TITLE_CD, points: easternSeries, fit: easternFit,
    xMin: -7.4, xMax: 409.7, yMin: -13.8, yMax: 103.1, xTicks: xTicksEast, yTicks: yTicks50,
    left: 664, top: 583, width: 611, height: 460,
    chartLeft: 64.3, chartTop: 17, chartRight: 594, chartBottom: 398.7,
    yTitlePad: 16.3, letterX: 689, titleCenterX: 977, baseline: 575,
  },
];

const plotAreaWhite = {
  id: "plotAreaWhite",
  beforeDraw(chart: any) {
    const { ctx, chartArea: a } = chart;
    ctx.save();
    ctx.fillStyle = "#ffffff";
    ctx.fillRect(a.left, a.top, a.right - a.left, a.bottom - a.top);
    ctx.restore();
  },
};

function ScatterPanel({ spec }: { spec: PanelSpec }) {
  const ref = useRef<HTMLCanvasElement | null>(null);

  useEffect(() => {
    const canvas = ref.current;
    if (!canvas) return;
    const tickFont = { family: ARIAL, size: 16 };
    const chart = new Chart(canvas, {
      type: "scatter",
      data: {
        datasets: [
          {
            type: "line",
            data: spec.fit.map(([x, y]) => ({ x, y })),
            borderColor: "#050505",
            borderWidth: 3,
            pointRadius: 0,
            showLine: true,
            fill: false,
            order: 0,
          } as any,
          {
            type: "scatter",
            data: spec.points.map(([x, y]) => ({ x, y })),
            pointStyle: "rectRot",
            pointRadius: 4.3,
            pointHoverRadius: 4.3,
            backgroundColor: NAVY,
            borderColor: NAVY,
            borderWidth: 0.6,
            order: 1,
          } as any,
        ],
      },
      options: {
        animation: false,
        responsive: false,
        maintainAspectRatio: false,
        events: [],
        layout: {
          padding: { top: spec.chartTop, right: spec.width - spec.chartRight, bottom: 0, left: 0 },
        },
        plugins: {
          legend: { display: false },
          tooltip: { enabled: false },
          title: { display: false },
        },
        scales: {
          x: {
            type: "linear",
            position: "bottom",
            bounds: "data",
            min: spec.xMin,
            max: spec.xMax,
            afterBuildTicks: (axis: any) => {
              axis.ticks = spec.xTicks.map((v) => ({ value: v }));
            },
            afterFit: (axis: any) => {
              axis.height = spec.height - spec.chartBottom;
            },
            grid: {
              drawOnChartArea: false,
              drawTicks: true,
              tickLength: 5,
              tickColor: AXIS,
              tickWidth: 1.3,
            },
            border: { display: true, color: AXIS, width: 1.6 },
            ticks: {
              font: tickFont,
              color: TEXT,
              padding: 5,
              autoSkip: false,
              maxRotation: 0,
              minRotation: 0,
            },
            title: {
              display: true,
              text: X_TITLE,
              font: tickFont,
              color: TEXT,
              padding: { top: 0, bottom: 16.1 },
            },
          },
          y: {
            type: "linear",
            position: "left",
            bounds: "data",
            min: spec.yMin,
            max: spec.yMax,
            afterBuildTicks: (axis: any) => {
              axis.ticks = spec.yTicks.map((v) => ({ value: v }));
            },
            afterFit: (axis: any) => {
              axis.width = spec.chartLeft;
            },
            grid: {
              color: GRID,
              lineWidth: 1.6,
              drawTicks: true,
              tickLength: 5,
              tickColor: AXIS,
              tickWidth: 1.3,
            },
            border: { display: true, color: AXIS, width: 1.6 },
            ticks: {
              font: tickFont,
              color: TEXT,
              padding: 1,
              autoSkip: false,
              minRotation: 90,
              maxRotation: 90,
              crossAlign: "center",
            },
            title: {
              display: true,
              text: spec.yTitle,
              font: tickFont,
              color: TEXT,
              padding: { top: spec.yTitlePad, bottom: 0 },
            },
          },
        },
      } as any,
      plugins: [plotAreaWhite],
    });
    return () => chart.destroy();
  }, [spec]);

  return (
    <>
      <canvas
        ref={ref}
        width={spec.width}
        height={spec.height}
        style={{
          position: "absolute",
          left: spec.left,
          top: spec.top,
          width: spec.width,
          height: spec.height,
          background: PANEL_BG,
          display: "block",
        }}
      />
      <div
        style={{
          position: "absolute",
          left: spec.letterX,
          top: spec.baseline + 1 - 31.7,
          fontFamily: ARIAL,
          fontWeight: 700,
          fontSize: 35,
          lineHeight: "39px",
          color: "#000",
          whiteSpace: "nowrap",
        }}
      >
        {spec.letter}
      </div>
      <div
        style={{
          position: "absolute",
          left: spec.titleCenterX,
          top: spec.baseline - 29,
          transform: "translateX(-50%)",
          fontFamily: TITLE_FONT,
          fontSize: 27,
          lineHeight: "37px",
          color: "#111",
          whiteSpace: "nowrap",
        }}
      >
        {spec.title}
      </div>
    </>
  );
}

const CAPTION_LINE1_WIDTH = 1250;

function Caption() {
  const line1 = useRef<HTMLSpanElement | null>(null);
  const [spacing, setSpacing] = useState(0);

  useLayoutEffect(() => {
    const el = line1.current;
    if (!el) return;
    const w = el.getBoundingClientRect().width;
    const n = (el.textContent || "").length;
    if (n > 0) setSpacing((CAPTION_LINE1_WIDTH - w) / n);
  }, []);

  const b = { fontWeight: 700, color: "#222" } as React.CSSProperties;
  return (
    <div
      style={{
        position: "absolute",
        left: 25,
        top: 1054,
        fontFamily: CAPTION_FONT,
        fontSize: 19,
        lineHeight: "27px",
        color: "#3a3a3a",
        whiteSpace: "nowrap",
        letterSpacing: `${spacing}px`,
      }}
    >
      <span ref={line1}>
        <span style={b}>Fig. 3</span> GHE per capita in 2003 and annual growth rate of GHE per capita from 2003 to
        2007. Figure (<span style={b}>a</span>) presents all counties in China, and (<span style={b}>b</span>,{" "}
        <span style={b}>c</span>, <span style={b}>d</span>)
      </span>
      <br />
      <span>presents the counties in the West, Central, and Eastern regions of China, respectively</span>
    </div>
  );
}

export default function App() {
  return (
    <div
      style={{
        position: "absolute",
        left: 0,
        top: 0,
        width: 1293,
        height: 1113,
        overflow: "hidden",
        background: "#ffffff",
      }}
    >
      <div
        style={{
          position: "absolute",
          left: 10,
          top: 10,
          width: 1282,
          height: 1140,
          border: "1.5px solid #3a3a3a",
          borderRadius: 13,
          boxSizing: "border-box",
        }}
      />
      {panels.map((p) => (
        <ScatterPanel key={p.key} spec={p} />
      ))}
      <Caption />
    </div>
  );
}
